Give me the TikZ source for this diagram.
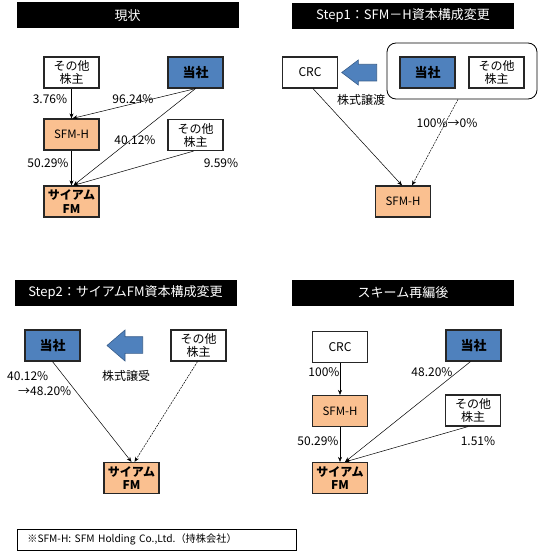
\documentclass[tikz,border=0pt]{standalone}
\usepackage{fontspec}
\setmainfont{Noto Sans CJK JP}
\usetikzlibrary{arrows.meta}

\definecolor{toshablue}{HTML}{4F81BD}
\definecolor{toshaline}{HTML}{385D8A}
\definecolor{subsorange}{HTML}{FAC090}

\tikzset{
  box/.style={draw=black!85, line width=1.2pt, minimum width=55pt, minimum height=31pt,
    inner sep=1pt, align=center, font=\fontsize{11.5}{13}\selectfont},
  parent/.style={box, fill=toshablue, font=\fontsize{13}{14}\selectfont\bfseries},
  subsid/.style={box, fill=subsorange},
  siam/.style={subsid, font=\fontsize{12}{13.5}\selectfont\bfseries},
  other/.style={box, fill=white, font=\fontsize{12}{13}\selectfont},
  titlebar/.style={fill=black, text=white, minimum width=222pt, minimum height=26pt,
    inner sep=0pt, font=\fontsize{13}{14}\selectfont},
  pct/.style={inner sep=0pt, font=\fontsize{12}{15}\selectfont},
  own/.style={-{Stealth[length=5pt,width=4pt]}, line width=0.5pt},
  owndash/.style={own, dash pattern=on 2pt off 1pt},
  bigarrow/.style={fill=toshablue, draw=toshaline, line width=0.6pt},
}

\begin{document}
\begin{tikzpicture}[x=1pt,y=-1pt]

  \useasboundingbox (0,0) rectangle (549,559);

  % ---- current state
  \node[titlebar] (t1) at (127.5,15.5) {現状};
  \node[other]  (oth1a) at (71.5,72.5)  {その他\\株主};
  \node[parent] (tosha1) at (195.5,72.5) {当社};
  \node[subsid] (sfmh1) at (71.5,134.5) {SFM-H};
  \node[other]  (oth1b) at (195.5,135)  {その他\\株主};
  \node[siam]   (siam1) at (71.5,201.5) {サイアム\\FM};

  \draw[own] (oth1a) -- (sfmh1);
  \draw[own] (tosha1.south) -- ([xshift=1pt]sfmh1.north);
  \draw[own] (tosha1.south) -- ([xshift=2pt]siam1.north);
  \draw[own] (sfmh1) -- (siam1);
  \draw[own] ([xshift=-2pt]oth1b.south) -- ([xshift=2pt]siam1.north);

  \node[pct] (p1a) at (50,99)   {3.76\%};
  \node[pct] (p1b) at (133,99)  {96.24\%};
  \node[pct] (p1c) at (135,140) {40.12\%};
  \node[pct] (p1d) at (48,163)  {50.29\%};
  \node[pct] (p1e) at (221,163) {9.59\%};

  % ---- step 1
  \node[titlebar] (t2) at (403,16) {Step1：SFM－H資本構成変更};
  \node[other] (crc2) at (310,72.5) {CRC};
  \node[draw, line width=0.8pt, rounded corners=9pt, minimum width=150pt,
    minimum height=56pt] (grp2) at (462,71) {};
  \node[parent] (tosha2) at (427.5,72.5) {当社};
  \node[other]  (oth2) at (496.5,72.5) {その他\\株主};
  \node[subsid] (sfmh2) at (403,201.5) {SFM-H};

  \draw[bigarrow] (341.7,72.5) -- (358.3,60) -- (358.3,64.3) -- (376.7,64.3)
    -- (376.7,81) -- (358.3,81) -- (358.3,85) -- cycle;

  \draw[own] ([xshift=3pt]crc2.south) -- ([xshift=-1pt]sfmh2.north);
  \draw[owndash] ([xshift=-4pt]grp2.south) -- ([xshift=9pt]sfmh2.north);

  \node[pct] (s2a) at (361,100) {株式譲渡};
  \node[pct] (s2b) at (447,123) {100\%→0\%};

  % ---- step 2
  \node[titlebar] (t3) at (125.5,292.5) {Step2：サイアムFM資本構成変更};
  \node[parent] (tosha3) at (52.5,345.5) {当社};
  \node[other]  (oth3) at (198.5,345.5) {その他\\株主};
  \node[siam]   (siam3) at (131.5,478) {サイアム\\FM};

  \draw[bigarrow] (107,345.5) -- (125,330) -- (125,336.7) -- (142.7,336.7)
    -- (142.7,353.3) -- (125,353.3) -- (125,361) -- cycle;

  \draw[own] (tosha3.south) -- (siam3.north);
  \draw[owndash] ([xshift=-1pt]oth3.south) -- ([xshift=3pt]siam3.north);

  \node[pct, anchor=west, align=left] (s3a) at (7,384) {40.12\%\\\hspace*{11pt}→48.20\%};
  \node[pct] (s3b) at (126,376) {株式譲受};

  % ---- after reorganisation
  \node[titlebar] (t4) at (403,293) {スキーム再編後};
  \node[other]  (crc4) at (340,347) {CRC};
  \node[parent] (tosha4) at (473.5,345.5) {当社};
  \node[subsid] (sfmh4) at (340,411) {SFM-H};
  \node[other]  (oth4) at (473,410.5) {その他\\株主};
  \node[siam]   (siam4) at (340,478) {サイアム\\FM};

  \draw[own] (crc4) -- (sfmh4);
  \draw[own] ([xshift=-3pt]tosha4.south) -- ([xshift=5pt]siam4.north);
  \draw[own] (sfmh4) -- (siam4);
  \draw[own] ([xshift=-5pt]oth4.south) -- ([xshift=5pt]siam4.north);

  \node[pct] (p4a) at (324,372) {100\%};
  \node[pct] (p4b) at (432,372) {48.20\%};
  \node[pct] (p4c) at (318,441) {50.29\%};
  \node[pct] (p4d) at (478,441) {1.51\%};

  % ---- footnote
  \node[draw, line width=0.6pt, anchor=north west, inner xsep=10pt, inner ysep=0pt,
    text width=259pt, minimum height=21pt, align=left,
    font=\fontsize{10.2}{12}\selectfont] (note) at (17,529)
    {※SFM-H: SFM Holding Co.,Ltd.（持株会社）};

\end{tikzpicture}
\end{document}
